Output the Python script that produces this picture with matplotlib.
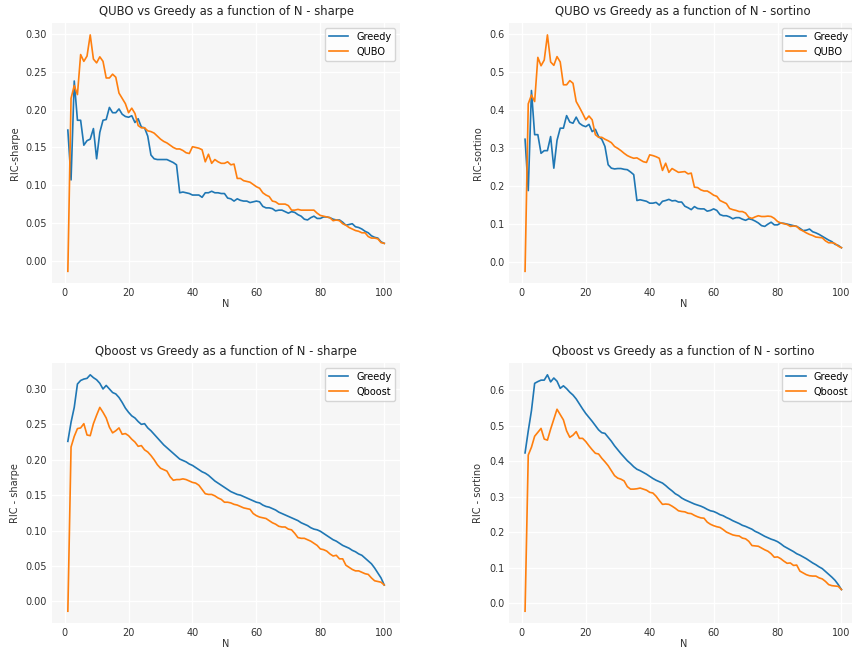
import matplotlib
matplotlib.use("Agg")
import matplotlib.pyplot as plt
import numpy as np

N = np.arange(1, 101)

# QUBO vs Greedy - sharpe
greedy_sharpe = [
    0.173, 0.107, 0.238, 0.186, 0.186, 0.153, 0.159, 0.161, 0.175, 0.135,
    0.170, 0.186, 0.187, 0.203, 0.196, 0.196, 0.201, 0.194, 0.191, 0.190,
    0.192, 0.183, 0.188, 0.177, 0.176, 0.165, 0.140, 0.135, 0.134, 0.134,
    0.134, 0.134, 0.132, 0.130, 0.127, 0.090, 0.091, 0.090, 0.089, 0.087,
    0.087, 0.087, 0.084, 0.090, 0.090, 0.092, 0.090, 0.090, 0.089, 0.089,
    0.083, 0.082, 0.079, 0.082, 0.080, 0.079, 0.079, 0.077, 0.078, 0.079,
    0.078, 0.072, 0.070, 0.070, 0.069, 0.066, 0.067, 0.067, 0.065, 0.063,
    0.065, 0.064, 0.061, 0.059, 0.055, 0.054, 0.057, 0.059, 0.056, 0.056,
    0.058, 0.058, 0.057, 0.055, 0.054, 0.054, 0.051, 0.047, 0.048, 0.049,
    0.045, 0.044, 0.042, 0.039, 0.037, 0.033, 0.031, 0.030, 0.025, 0.023,
]
qubo_sharpe = [
    -0.014, 0.215, 0.232, 0.220, 0.273, 0.264, 0.271, 0.299, 0.267, 0.262,
    0.270, 0.264, 0.242, 0.242, 0.247, 0.243, 0.222, 0.215, 0.208, 0.196,
    0.202, 0.195, 0.179, 0.176, 0.176, 0.172, 0.171, 0.169, 0.165, 0.161,
    0.158, 0.156, 0.153, 0.150, 0.148, 0.148, 0.146, 0.143, 0.142, 0.151,
    0.150, 0.149, 0.147, 0.131, 0.141, 0.129, 0.134, 0.131, 0.129, 0.129,
    0.131, 0.127, 0.128, 0.109, 0.109, 0.106, 0.105, 0.104, 0.101, 0.098,
    0.096, 0.090, 0.087, 0.085, 0.079, 0.078, 0.075, 0.075, 0.075, 0.073,
    0.067, 0.067, 0.068, 0.067, 0.067, 0.067, 0.067, 0.067, 0.063, 0.060,
    0.059, 0.058, 0.057, 0.053, 0.054, 0.053, 0.049, 0.047, 0.044, 0.042,
    0.040, 0.039, 0.037, 0.037, 0.032, 0.030, 0.030, 0.029, 0.024, 0.023,
]

# QUBO vs Greedy - sortino
greedy_sortino = [
    0.323, 0.188, 0.451, 0.335, 0.335, 0.286, 0.293, 0.293, 0.330, 0.247,
    0.320, 0.352, 0.352, 0.385, 0.368, 0.365, 0.381, 0.365, 0.359, 0.356,
    0.362, 0.343, 0.349, 0.330, 0.323, 0.304, 0.256, 0.247, 0.245, 0.246,
    0.246, 0.244, 0.243, 0.237, 0.230, 0.162, 0.164, 0.162, 0.160, 0.155,
    0.155, 0.157, 0.150, 0.160, 0.162, 0.165, 0.161, 0.162, 0.158, 0.158,
    0.147, 0.143, 0.138, 0.146, 0.141, 0.140, 0.140, 0.134, 0.136, 0.140,
    0.136, 0.125, 0.122, 0.122, 0.119, 0.114, 0.117, 0.117, 0.113, 0.110,
    0.114, 0.112, 0.108, 0.103, 0.096, 0.094, 0.100, 0.105, 0.098, 0.098,
    0.103, 0.102, 0.100, 0.098, 0.096, 0.094, 0.089, 0.083, 0.084, 0.087,
    0.080, 0.077, 0.073, 0.068, 0.063, 0.058, 0.054, 0.047, 0.044, 0.038,
]
qubo_sortino = [
    -0.024, 0.416, 0.439, 0.422, 0.538, 0.516, 0.531, 0.597, 0.526, 0.517,
    0.540, 0.526, 0.466, 0.466, 0.477, 0.470, 0.422, 0.407, 0.391, 0.374,
    0.384, 0.374, 0.335, 0.328, 0.328, 0.323, 0.319, 0.314, 0.304, 0.299,
    0.293, 0.286, 0.280, 0.276, 0.273, 0.274, 0.269, 0.264, 0.262, 0.282,
    0.280, 0.277, 0.273, 0.241, 0.260, 0.236, 0.246, 0.241, 0.236, 0.237,
    0.238, 0.232, 0.234, 0.197, 0.196, 0.190, 0.187, 0.187, 0.182, 0.176,
    0.173, 0.162, 0.158, 0.154, 0.141, 0.138, 0.136, 0.133, 0.133, 0.129,
    0.118, 0.115, 0.119, 0.122, 0.120, 0.120, 0.121, 0.120, 0.115, 0.107,
    0.103, 0.101, 0.099, 0.094, 0.095, 0.094, 0.086, 0.082, 0.077, 0.073,
    0.070, 0.066, 0.065, 0.064, 0.056, 0.051, 0.051, 0.049, 0.042, 0.038,
]

# Qboost vs Greedy - sharpe
greedy_sharpe_qb = [
    0.226, 0.253, 0.274, 0.307, 0.312, 0.314, 0.315, 0.320, 0.316, 0.313,
    0.308, 0.300, 0.305, 0.300, 0.295, 0.293, 0.288, 0.281, 0.273, 0.267,
    0.262, 0.259, 0.254, 0.250, 0.251, 0.245, 0.241, 0.236, 0.231, 0.226,
    0.221, 0.217, 0.213, 0.209, 0.205, 0.201, 0.199, 0.197, 0.194, 0.192,
    0.189, 0.186, 0.183, 0.181, 0.178, 0.174, 0.170, 0.167, 0.164, 0.161,
    0.158, 0.155, 0.153, 0.151, 0.150, 0.148, 0.146, 0.144, 0.142, 0.140,
    0.139, 0.136, 0.134, 0.133, 0.131, 0.129, 0.126, 0.124, 0.122, 0.120,
    0.118, 0.116, 0.114, 0.111, 0.109, 0.107, 0.104, 0.102, 0.101, 0.099,
    0.096, 0.093, 0.090, 0.087, 0.085, 0.082, 0.079, 0.077, 0.075, 0.072,
    0.070, 0.067, 0.065, 0.061, 0.057, 0.053, 0.047, 0.040, 0.033, 0.023,
]
qboost_sharpe = [
    -0.014, 0.218, 0.233, 0.244, 0.245, 0.251, 0.235, 0.234, 0.251, 0.263,
    0.274, 0.267, 0.259, 0.246, 0.238, 0.241, 0.245, 0.236, 0.237, 0.234,
    0.229, 0.225, 0.219, 0.220, 0.214, 0.211, 0.206, 0.200, 0.193, 0.188,
    0.186, 0.184, 0.176, 0.171, 0.172, 0.172, 0.173, 0.172, 0.170, 0.168,
    0.167, 0.164, 0.158, 0.152, 0.151, 0.151, 0.149, 0.146, 0.144, 0.140,
    0.140, 0.139, 0.137, 0.136, 0.134, 0.132, 0.131, 0.130, 0.124, 0.121,
    0.119, 0.118, 0.117, 0.114, 0.111, 0.109, 0.106, 0.105, 0.105, 0.102,
    0.101, 0.096, 0.090, 0.089, 0.089, 0.087, 0.085, 0.082, 0.079, 0.074,
    0.073, 0.071, 0.067, 0.064, 0.065, 0.060, 0.060, 0.051, 0.048, 0.045,
    0.043, 0.043, 0.041, 0.039, 0.038, 0.033, 0.029, 0.028, 0.027, 0.023,
]

# Qboost vs Greedy - sortino
greedy_sortino_qb = [
    0.423, 0.485, 0.542, 0.619, 0.624, 0.628, 0.628, 0.643, 0.623, 0.634,
    0.625, 0.605, 0.612, 0.604, 0.594, 0.586, 0.575, 0.561, 0.547, 0.534,
    0.523, 0.512, 0.500, 0.488, 0.480, 0.478, 0.467, 0.456, 0.443, 0.432,
    0.421, 0.411, 0.401, 0.393, 0.384, 0.377, 0.373, 0.368, 0.363, 0.357,
    0.351, 0.346, 0.342, 0.338, 0.331, 0.323, 0.316, 0.308, 0.303, 0.296,
    0.291, 0.287, 0.283, 0.279, 0.276, 0.273, 0.269, 0.264, 0.260, 0.258,
    0.254, 0.249, 0.246, 0.241, 0.237, 0.232, 0.228, 0.224, 0.219, 0.216,
    0.212, 0.208, 0.202, 0.198, 0.193, 0.188, 0.184, 0.180, 0.177, 0.173,
    0.167, 0.160, 0.155, 0.150, 0.145, 0.139, 0.135, 0.130, 0.125, 0.119,
    0.113, 0.108, 0.102, 0.097, 0.089, 0.081, 0.073, 0.064, 0.052, 0.038,
]
qboost_sortino = [
    -0.023, 0.417, 0.439, 0.470, 0.481, 0.492, 0.462, 0.459, 0.490, 0.518,
    0.546, 0.531, 0.516, 0.485, 0.467, 0.473, 0.483, 0.464, 0.464, 0.455,
    0.443, 0.432, 0.422, 0.420, 0.408, 0.398, 0.387, 0.373, 0.359, 0.352,
    0.349, 0.344, 0.328, 0.321, 0.321, 0.322, 0.324, 0.321, 0.318, 0.312,
    0.310, 0.301, 0.289, 0.278, 0.279, 0.278, 0.273, 0.267, 0.260, 0.258,
    0.257, 0.253, 0.252, 0.247, 0.243, 0.240, 0.239, 0.228, 0.222, 0.218,
    0.215, 0.213, 0.207, 0.200, 0.196, 0.192, 0.190, 0.189, 0.183, 0.181,
    0.174, 0.162, 0.161, 0.160, 0.155, 0.150, 0.146, 0.139, 0.129, 0.130,
    0.125, 0.118, 0.112, 0.113, 0.106, 0.107, 0.090, 0.085, 0.080, 0.077,
    0.076, 0.076, 0.071, 0.068, 0.061, 0.052, 0.049, 0.048, 0.047, 0.038,
]

plt.rcParams.update({
    "font.family": "DejaVu Sans",
    "axes.facecolor": "#f6f6f6",
    "axes.edgecolor": "#f6f6f6",
    "axes.grid": True,
    "grid.color": "white",
    "grid.linewidth": 1.0,
    "xtick.labelsize": 7,
    "ytick.labelsize": 7,
    "xtick.color": "#333333",
    "ytick.color": "#333333",
    "xtick.major.size": 0,
    "ytick.major.size": 0,
    "axes.labelcolor": "#333333",
    "axes.labelsize": 7,
    "axes.titlesize": 8.4,
    "legend.fontsize": 7,
})

panels = [
    ("QUBO vs Greedy as a function of N - sharpe", "RIC-sharpe", greedy_sharpe, qubo_sharpe, "QUBO"),
    ("QUBO vs Greedy as a function of N - sortino", "RIC-sortino", greedy_sortino, qubo_sortino, "QUBO"),
    ("Qboost vs Greedy as a function of N - sharpe", "RIC - sharpe", greedy_sharpe_qb, qboost_sharpe, "Qboost"),
    ("Qboost vs Greedy as a function of N - sortino", "RIC - sortino", greedy_sortino_qb, qboost_sortino, "Qboost"),
]
positions = [
    [0.061, 0.571, 0.408, 0.394],
    [0.597, 0.571, 0.408, 0.394],
    [0.061, 0.056, 0.408, 0.394],
    [0.597, 0.056, 0.408, 0.394],
]

fig = plt.figure(figsize=(8.53, 6.6), dpi=100)
for (title, ylabel, g, q, qname), pos in zip(panels, positions):
    ax = fig.add_axes(pos)
    ax.plot(N, g, color="#1f77b4", lw=1.2, label="Greedy")
    ax.plot(N, q, color="#ff7f0e", lw=1.2, label=qname)
    ax.set_title(title, color="#222222")
    ax.set_xlabel("N", labelpad=1)
    ax.set_ylabel(ylabel)
    for s in ax.spines.values():
        s.set_visible(False)
    ax.legend(loc="upper right", edgecolor="#cccccc", facecolor="white")

fig.savefig("out.png", dpi=100)
